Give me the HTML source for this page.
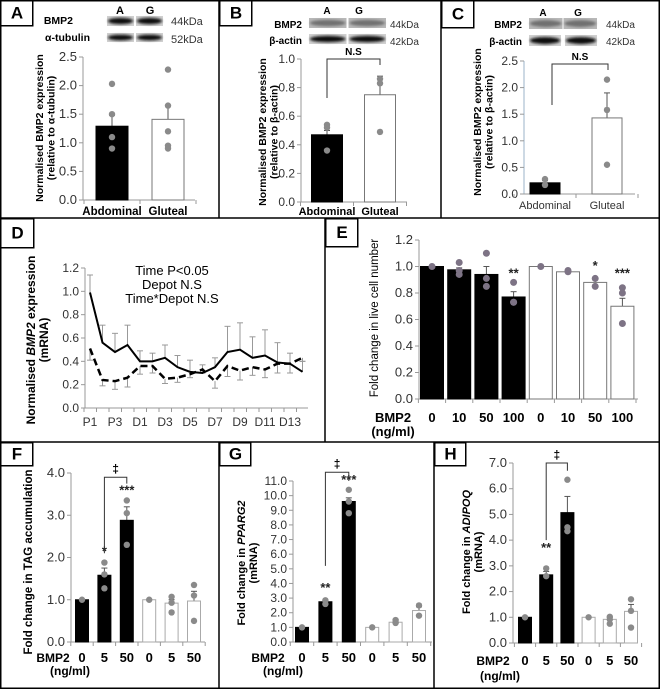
<!DOCTYPE html>
<html><head><meta charset="utf-8"><style>
body{margin:0;background:#fff}
svg{display:block;font-family:"Liberation Sans",sans-serif}
</style></head><body>
<svg id="fig" width="660" height="689" viewBox="0 0 660 689">
<defs><filter id="blur" x="-20%" y="-50%" width="140%" height="200%"><feGaussianBlur stdDeviation="1.2"/></filter></defs>
</svg>
<script>
// ---------- DATA ----------
const aCats=["Abdominal","Gluteal"], aVals=[1.29,1.41], aErr=[1.48,1.65], aDots=[[2.03,1.5,1.1,0.9],[2.28,1.65,1.2,0.95,0.9]], aTicks=[0,0.5,1,1.5,2,2.5];
const bCats=["Abdominal","Gluteal"], bVals=[0.47,0.75], bErr=[0.5,0.88], bDots=[[0.54,0.52,0.36],[0.86,0.83,0.49]], bTicks=[0,0.2,0.4,0.6,0.8,1.0];
const cCats=["Abdominal","Gluteal"], cVals=[0.21,1.43], cErr=[0.25,1.9], cDots=[[0.28,0.17],[2.15,1.58,0.55]], cTicks=[0,0.5,1,1.5,2,2.5];
const dCats=["P1","P2","P3","P4","D1","D2","D3","D4","D5","D6","D7","D8","D9","D10","D11","D12","D13","D14"];
const dSolid=[0.99,0.56,0.48,0.54,0.40,0.40,0.43,0.35,0.31,0.30,0.35,0.48,0.50,0.43,0.45,0.39,0.38,0.31];
const dSolidErr=[1.14,0.71,0.64,0.71,0.49,0.47,0.54,0.45,0.41,0.37,0.43,0.70,0.73,0.61,0.67,0.56,0.47,0.40];
const dDash=[0.51,0.24,0.23,0.26,0.36,0.36,0.25,0.26,0.29,0.33,0.23,0.36,0.32,0.35,0.33,0.38,0.38,0.43];
const dDashErr=[0.41,0.19,0.16,0.18,0.29,0.30,0.21,0.22,0.26,0.30,0.17,0.27,0.24,0.28,0.26,0.30,0.30,0.40];
const dTicks=[0,0.2,0.4,0.6,0.8,1.0,1.2];
const eCats=["0","10","50","100","0","10","50","100"], eVals=[1.0,0.975,0.94,0.77,1.0,0.96,0.88,0.70], eErr=[1.0,0.99,1.0,0.81,1.0,0.97,0.9,0.76];
const eDots=[[1.0],[1.03,0.97,0.94],[1.1,0.91,0.85],[0.88,0.73,0.73],[1.0],[0.97,0.96],[0.91,0.85],[0.84,0.80,0.57]];
const eStars=["","","","**","","","*","***"], eTicks=[0,0.2,0.4,0.6,0.8,1.0,1.2];
const fCats=["0","5","50","0","5","50"], fVals=[1.0,1.58,2.88,1.0,0.92,0.97], fErr=[1.0,1.75,3.2,1.0,1.0,1.2];
const fDots=[[1.0],[1.88,1.6,1.27],[3.35,3.05,2.3],[1.0],[1.07,0.93,0.7],[1.35,1.1,0.5]];
const fStars=["","*","***","","",""], fTicks=[0,1,2,3,4];
const gCats=["0","5","50","0","5","50"], gVals=[1.0,2.75,9.6,1.0,1.35,2.15], gErr=[1.0,2.85,9.85,1.0,1.5,2.4];
const gDots=[[1.0],[2.85,2.6],[10.4,9.6,8.8],[1.0],[1.5,1.35,1.3],[2.5,1.8]];
const gStars=["","**","***","","",""], gTicks=[0,1,2,3,4,5,6,7,8,9,10,11];
const hCats=["0","5","50","0","5","50"], hVals=[1.0,2.65,5.07,1.0,0.92,1.23], hErr=[1.0,2.78,5.7,1.0,1.0,1.5];
const hDots=[[1.0],[2.9,2.6],[6.35,4.5,4.35],[1.0],[1.02,0.92,0.75],[1.7,1.25,0.6]];
const hStars=["","**","","","",""], hTicks=[0,1,2,3,4,5,6,7];

// ---------- HELPERS ----------
const NS="http://www.w3.org/2000/svg", svg=document.getElementById('fig');
function mk(tag,attrs,parent,txt){const e=document.createElementNS(NS,tag);for(const k in attrs)e.setAttribute(k,attrs[k]);if(txt!==undefined)e.textContent=txt;(parent||svg).appendChild(e);return e;}
function grp(name){const g=mk('g',{});return g;}
function txt(g,x,y,s,size,opts){const t=mk('text',Object.assign({x:x,y:y,'font-size':size,'text-anchor':'middle',fill:'#000'},opts||{}),g,s);return t;}
function line(g,x1,y1,x2,y2,stroke,w,extra){const l=mk('line',Object.assign({x1:x1,y1:y1,x2:x2,y2:y2,stroke:stroke,'stroke-width':w},extra||{}),g);return l;}
function rtitle(g,x,y,lines,size,weight){const t=mk('text',{transform:`translate(${x},${y}) rotate(-90)`,'font-size':size,'font-weight':weight||'bold','text-anchor':'middle'},g);lines.forEach((l,i)=>{const ts=mk('tspan',{x:0,dy:i?size*1.1:0},t);ts.innerHTML=l;});return t;}

function barPanel(name,p,cats,vals,errs,dots,ticks,dec,stars){
  const g=grp(name);
  const ys=v=>p.y0-(v/p.vmax)*(p.y0-p.yTop);
  const xs=i=>p.c0+i*p.step;
  line(g,p.x0,p.yTop,p.x0,p.y0,p.axis||'#999',1);
  line(g,p.x0,p.y0,p.xEnd,p.y0,'#999',1);
  ticks.forEach(t=>{line(g,p.x0-4,ys(t),p.x0,ys(t),'#999',1);
    const tl=txt(g,p.x0-6,ys(t)+4,t.toFixed(dec),p.tsize||12,{'text-anchor':'end',fill:'#333'});});
  for(let i=0;i<=cats.length;i++){const bx=p.c0+(i-0.5)*p.step;line(g,bx,p.y0,bx,p.y0+4,'#999',1);}
  vals.forEach((v,i)=>{
    const cx=xs(i), black=i<p.nBlack;
    line(g,cx,ys(v),cx,ys(errs[i]),'#555',1);
    line(g,cx-3,ys(errs[i]),cx+3,ys(errs[i]),'#555',1);
    const r=mk('rect',{x:cx-p.bw/2,y:ys(v),width:p.bw,height:p.y0-ys(v),fill:black?'#000':'#fff',stroke:black?'#000':(p.wstroke||'#777'),'stroke-width':1},g);
    
    
    dots[i].forEach(d=>{const c=mk('circle',{cx:cx,cy:ys(d),r:p.dr||3.2,fill:p.dotc||'#8a8a8a'},g);
      
      });
    if(stars&&stars[i]){const s=txt(g,cx,ys(p.starAt?p.starAt[i]:errs[i])-6,stars[i],13,{'font-weight':'bold',fill:'#222'});}
    if(p.catY){const tl=txt(g,cx,p.catY,cats[i],p.csize||13,{'font-weight':p.cweight||'bold',fill:p.cfill||'#000'});}
  });
  return {g,ys,xs};
}
function bracket(g,x1,y1,yTop,x2,y2,label,lsize){
  mk('polyline',{points:`${x1},${y1} ${x1},${yTop} ${x2},${yTop} ${x2},${y2}`,fill:'none',stroke:'#333','stroke-width':1},g);
  const t=txt(g,(x1+x2)/2,yTop-4,label,lsize||11,{'font-weight':'bold'});
}
function blot(g,x,y,w,h,dark,n,gap){
  const bw=(w-gap)/2;
  for(let i=0;i<2;i++){
    const bx=x+i*(bw+gap);
    mk('rect',{x:bx,y:y,width:bw,height:h,fill:dark?'#d0d0d0':'#b8b8b8'},g);
    const band=mk('ellipse',{cx:bx+bw/2,cy:y+h/2,rx:bw/2-1,ry:h/3.2,fill:dark?'#111':'#707070',filter:'url(#blur)'},g);
    
    
  }
}

// ---------- PANEL FRAMES ----------
const frame=grp('panel-borders');
mk('rect',{x:0.75,y:0.75,width:658.5,height:687.5,fill:'none',stroke:'#000','stroke-width':1.5},frame);
[[219,0,219,218],[441,0,441,218],[0,218,660,218],[325,218,325,442],[0,442,660,442],[219,442,219,689],[434,442,434,689]].forEach(l=>line(frame,...l,'#000',1.5));
[['A',0,0,32,25],['B',219,0,32,25],['C',441,0,32,27],['D',0,218,33,29],['E',325,218,32,28],['F',0,442,32,23],['G',219,442,31,23],['H',434,442,31,23]].forEach(b=>{
  mk('rect',{x:b[1]+0.75,y:b[2]+0.75,width:b[3],height:b[4],fill:'#fff',stroke:'#000','stroke-width':1.5},frame);
  const t=txt(frame,b[1]+b[3]/2+1,b[2]+b[4]/2+6,b[0],17,{'font-weight':'bold'});
});

// ---------- PANEL A ----------
const A=barPanel('panel-a',{x0:83,y0:200,yTop:57,vmax:2.5,xEnd:195,c0:112,step:56,bw:32,nBlack:1,catY:215,csize:11.5,tsize:13},aCats,aVals,aErr,aDots,aTicks,1);
rtitle(A.g,43,128,['Normalised BMP2 expression','(relative to α-tubulin)'],10.5);
txt(A.g,120,14,'A',11,{'font-weight':'bold'});txt(A.g,150,14,'G',11,{'font-weight':'bold'});
txt(A.g,73,24,'BMP2',10.5,{'font-weight':'bold','text-anchor':'end'});
txt(A.g,90,41,'α-tubulin',10.5,{'font-weight':'bold','text-anchor':'end'});
blot(A.g,107,16,56,10,true,2,2);blot(A.g,107,33,56,9,true,2,2);
txt(A.g,171,25,'44kDa',11,{'text-anchor':'start',fill:'#333'});txt(A.g,171,43,'52kDa',11,{'text-anchor':'start',fill:'#333'});

// ---------- PANEL B ----------
const B=barPanel('panel-b',{x0:301,y0:202,yTop:59,vmax:1.0,xEnd:407,c0:327,step:53,bw:31,nBlack:1,catY:215,csize:11},bCats,bVals,bErr,bDots,bTicks,1);
rtitle(B.g,266,132,['Normalised BMP2 expression','(relative to β-actin)'],10.5);
bracket(B.g,B.xs(0),98,59,B.xs(1),65,'N.S',10);
txt(B.g,327,14,'A',10,{'font-weight':'bold'});txt(B.g,359,14,'G',10,{'font-weight':'bold'});
txt(B.g,302,28,'BMP2',10,{'font-weight':'bold','text-anchor':'end'});
txt(B.g,302,44,'β-actin',10,{'font-weight':'bold','text-anchor':'end'});
blot(B.g,309,18,77,10,false,2,2);blot(B.g,309,34,77,10,true,2,2);
txt(B.g,390,28,'44kDa',10,{'text-anchor':'start',fill:'#333'});txt(B.g,390,45,'42kDa',10,{'text-anchor':'start',fill:'#333'});

// ---------- PANEL C ----------
const C=barPanel('panel-c',{x0:524,y0:194,yTop:61,vmax:2.5,xEnd:635,c0:545,step:62,bw:30,nBlack:1,catY:209,csize:11,cweight:'normal',cfill:'#333',axis:'#9bb3c9'},cCats,cVals,cErr,cDots,cTicks,1);
rtitle(C.g,481,122,['Normalised BMP2 expression','(relative to β-actin)'],10.5);
bracket(C.g,552,105,64,608,70,'N.S',10);
txt(C.g,543,16,'A',10,{'font-weight':'bold'});txt(C.g,578,16,'G',10,{'font-weight':'bold'});
txt(C.g,522,28,'BMP2',10,{'font-weight':'bold','text-anchor':'end'});
txt(C.g,522,45,'β-actin',10,{'font-weight':'bold','text-anchor':'end'});
blot(C.g,529,18,68,11,false,2,1);blot(C.g,529,35,68,11,true,2,4);
txt(C.g,606,28,'44kDa',10,{'text-anchor':'start',fill:'#333'});txt(C.g,606,45,'42kDa',10,{'text-anchor':'start',fill:'#333'});

// ---------- PANEL D ----------
(function(){
  const g=grp('panel-d');
  const x0=85,y0=408,yTop=268,vmax=1.2;
  const ys=v=>y0-(v/vmax)*(y0-yTop), xs=i=>90+i*12.5;
  line(g,x0,yTop,x0,y0,'#999',1);line(g,x0,y0,308,y0,'#999',1);
  dTicks.forEach(t=>{line(g,x0-4,ys(t),x0,ys(t),'#999',1);const l=txt(g,x0-6,ys(t)+4,t.toFixed(1),12,{'text-anchor':'end',fill:'#333'});});
  dCats.forEach((c,i)=>{line(g,xs(i)-6,y0,xs(i)-6,y0+4,'#999',1);
    if(i%2===0){const l=txt(g,xs(i),y0+18,c,12,{fill:'#333'});}});
  dSolid.forEach((v,i)=>{line(g,xs(i),ys(v),xs(i),ys(dSolidErr[i]),'#999',1);line(g,xs(i)-3,ys(dSolidErr[i]),xs(i)+3,ys(dSolidErr[i]),'#999',1);});
  dDash.forEach((v,i)=>{line(g,xs(i),ys(v),xs(i),ys(dDashErr[i]),'#999',1);line(g,xs(i)-3,ys(dDashErr[i]),xs(i)+3,ys(dDashErr[i]),'#999',1);});
  const s=mk('polyline',{points:dSolid.map((v,i)=>xs(i)+','+ys(v)).join(' '),fill:'none',stroke:'#000','stroke-width':2},g);
  
  
  const d=mk('polyline',{points:dDash.map((v,i)=>xs(i)+','+ys(v)).join(' '),fill:'none',stroke:'#000','stroke-width':2.5,'stroke-dasharray':'7,4'},g);
  
  
  rtitle(g,35,340,['Normalised <tspan font-style="italic">BMP2</tspan> expression','(mRNA)'],12);
  const a=grp('stats-annotation');g.appendChild(a);
  txt(a,172,275,'Time P<0.05',13);txt(a,172,289,'Depot N.S',13);txt(a,172,303,'Time*Depot N.S',13);
})();

// ---------- PANEL E ----------
const E=barPanel('panel-e',{x0:419,y0:399,yTop:240,vmax:1.2,xEnd:638,c0:432,step:27.2,bw:23,nBlack:4,catY:422,tsize:13,dotc:'#7d7385',dr:3.5,starAt:[0,0,0,0.87,0,0,0.93,0.87]},eCats,eVals,eErr,eDots,eTicks,1,eStars);
rtitle(E.g,378,318,['Fold change in live cell number'],11.5,'normal');
txt(E.g,393,422,'BMP2',13,{'font-weight':'bold'});txt(E.g,393,436,'(ng/ml)',13,{'font-weight':'bold'});

// ---------- PANEL F ----------
const F=barPanel('panel-f',{x0:71,y0:642,yTop:473,vmax:4,xEnd:205,c0:82,step:22.4,bw:13,nBlack:3,catY:662,tsize:13,wstroke:'#aaa',starAt:[0,1.9,3.35]},fCats,fVals,fErr,fDots,fTicks,1,fStars);
rtitle(F.g,32,562,['Fold change in TAG accumulation'],11.5);
bracket(F.g,F.xs(1),F.ys(2.1),F.ys(3.9),F.xs(2),F.ys(3.75),'‡',12);
txt(F.g,53,662,'BMP2',12,{'font-weight':'bold'});txt(F.g,70,675,'(ng/ml)',12,{'font-weight':'bold'});

// ---------- PANEL G ----------
const G=barPanel('panel-g',{x0:293,y0:642,yTop:481,vmax:11,xEnd:432,c0:302,step:23.4,bw:13,nBlack:3,catY:662,wstroke:'#aaa',starAt:[0,3.0,10.4]},gCats,gVals,gErr,gDots,gTicks,1,gStars);
rtitle(G.g,245,563,['Fold change in <tspan font-style="italic">PPARG2</tspan>','(mRNA)'],11);
bracket(G.g,G.xs(1),G.ys(5.2),G.ys(11.6),G.xs(2),G.ys(11.0),'‡',12);
txt(G.g,268,662,'BMP2',12,{'font-weight':'bold'});txt(G.g,283,675,'(ng/ml)',12,{'font-weight':'bold'});

// ---------- PANEL H ----------
const H=barPanel('panel-h',{x0:513,y0:643,yTop:463,vmax:7,xEnd:638,c0:525,step:21.2,bw:13,nBlack:3,catY:665,tsize:13,wstroke:'#aaa',starAt:[0,3.3]},hCats,hVals,hErr,hDots,hTicks,1,hStars);
rtitle(H.g,470,552,['Fold change in <tspan font-style="italic">ADIPOQ</tspan>','(mRNA)'],11);
bracket(H.g,H.xs(1),H.ys(4.0),H.ys(7.0),H.xs(2),H.ys(6.7),'‡',12);
txt(H.g,493,665,'BMP2',12,{'font-weight':'bold'});txt(H.g,500,680,'(ng/ml)',12,{'font-weight':'bold'});
</script>
</body></html>
